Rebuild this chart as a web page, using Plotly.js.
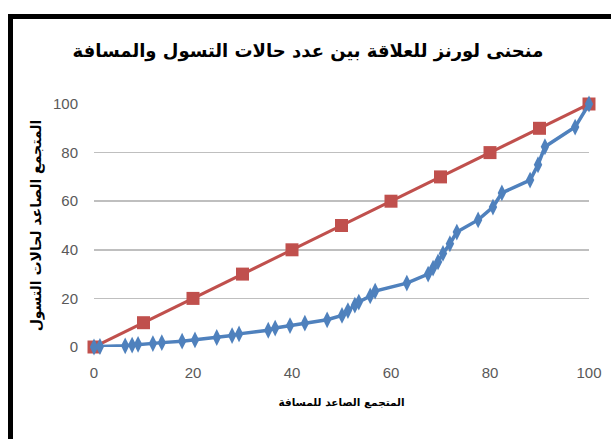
<!DOCTYPE html>
<html>
<head>
<meta charset="utf-8">
<script src="https://cdn.plot.ly/plotly-3.0.1.min.js"></script>
<style>
  html, body { margin: 0; padding: 0; background: #fff; overflow: hidden; }
  #wrap { position: relative; width: 611px; height: 439px; }
  #chart { position: absolute; left: 0; top: 0; width: 611px; height: 439px; }
  #frame { position: absolute; left: 8px; top: 14px; width: 700px; height: 500px;
           border-top: 5px solid #000; border-left: 5px solid #000; pointer-events: none; }
</style>
</head>
<body>
<div id="wrap">
  <div id="chart"></div>
  <div id="frame"></div>
</div>
<script>
const titleText = 'منحنى لورنز للعلاقة بين عدد حالات التسول والمسافة';
const xTitle = 'المتجمع الصاعد للمسافة';
const yTitle = 'المتجمع الصاعد لحالات التسول';

const equalityX = [0, 10, 20, 30, 40, 50, 60, 70, 80, 90, 100];
const equalityY = [0, 10, 20, 30, 40, 50, 60, 70, 80, 90, 100];

const lorenzX = [0, 1.2, 6.3, 7.7, 8.9, 11.9, 13.7, 17.8, 20.4, 24.8, 27.9, 29.3, 35.2, 36.6, 39.6, 42.6, 47.1, 50.1, 51.3, 52.7, 53.5, 55.8, 56.8, 63.2, 67.5, 68.5, 69.5, 70.5, 71.9, 73.3, 77.6, 80.6, 82.4, 88.1, 89.7, 91.1, 97.2, 100];
const lorenzY = [0, 0.2, 0.5, 0.8, 1.1, 1.4, 1.8, 2.4, 2.9, 3.9, 4.7, 5.4, 6.9, 7.8, 8.8, 9.8, 11.2, 13.0, 15.0, 17.2, 18.5, 21.0, 23.0, 26.3, 30.0, 32.5, 35.0, 38.5, 42.5, 47.3, 52.3, 57.6, 63.4, 68.7, 75.0, 82.4, 90.5, 100];

const tickVals = [0, 20, 40, 60, 80, 100];

const traces = [
  {
    x: equalityX, y: equalityY, type: 'scatter', mode: 'lines+markers',
    line: { color: '#C0504D', width: 3 },
    marker: { symbol: 'square', size: 13, color: '#C0504D' },
    cliponaxis: false, showlegend: false, hoverinfo: 'x+y'
  },
  {
    x: lorenzX, y: lorenzY, type: 'scatter', mode: 'lines+markers',
    line: { color: '#4F81BD', width: 3.5 },
    marker: { symbol: 'diamond-tall', size: 12, color: '#4F81BD' },
    cliponaxis: false, showlegend: false, hoverinfo: 'x+y'
  }
];

const tickFont = { family: 'Liberation Sans Narrow, Arial Narrow, sans-serif', size: 15, color: '#595959' };

const layout = {
  width: 611, height: 439,
  margin: { l: 94, r: 22, t: 104, b: 92 },
  paper_bgcolor: 'rgba(0,0,0,0)', plot_bgcolor: '#fff',
  title: {
    text: '<b>' + titleText + '</b>',
    font: { family: 'DejaVu Sans, Arial, sans-serif', size: 18, color: '#000' },
    x: 0.504, xanchor: 'center', xref: 'container', y: 0.885, yanchor: 'middle'
  },
  xaxis: {
    range: [0, 100], tickvals: tickVals, ticktext: tickVals.map(String),
    showgrid: false, zeroline: false, showline: false,
    ticks: 'outside', ticklen: 12, tickcolor: 'rgba(0,0,0,0)',
    tickfont: tickFont,
    title: { text: '<b>' + xTitle + '</b>', font: { family: 'DejaVu Sans, sans-serif', size: 10.5, color: '#000' }, standoff: 18 }
  },
  yaxis: {
    range: [0, 100], tickvals: tickVals, ticktext: tickVals.map(String),
    showgrid: true, gridcolor: '#BFBFBF', gridwidth: 1.5, zeroline: false, showline: false,
    ticks: 'outside', ticklen: 12, tickcolor: 'rgba(0,0,0,0)',
    tickfont: tickFont,
    title: { text: '<b>' + yTitle + '</b>', font: { family: 'DejaVu Sans, sans-serif', size: 14, color: '#000' }, standoff: 8 }
  }
};

Plotly.newPlot('chart', traces, layout, { displayModeBar: false, staticPlot: true });
</script>
</body>
</html>
